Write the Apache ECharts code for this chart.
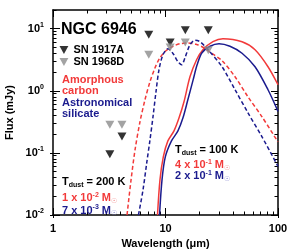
<!DOCTYPE html>
<html><head><meta charset="utf-8">
<script src="https://cdn.jsdelivr.net/npm/echarts@6/dist/echarts.min.js"></script>
<style>html,body{margin:0;padding:0;background:#fff}#c{width:300px;height:252px}</style>
</head><body><div id="c"></div>
<script>
// ---- data (wavelength in micron, flux in mJy) ----
const carbon200Wl   = [4.55, 4.94, 5.36, 5.93, 6.57, 7.28, 8.07, 8.93, 10.1, 11.7, 13.5, 15.8, 18.7, 21.5, 24.9, 31.8, 41.5, 54.1, 72.1, 100];
const carbon200Flux = [0.01, 0.0367, 0.112, 0.316, 0.716, 1.40, 2.35, 3.41, 4.42, 5.22, 5.73, 5.88, 5.62, 5.03, 4.18, 3.05, 1.68, 0.80, 0.381, 0.150];
const silicate200Wl   = [5.75, 6.31, 6.81, 7.28, 7.74, 8.23, 8.75, 9.5, 10.5, 11.7, 12.9, 13.9, 14.9, 16.5, 18.3, 20.3, 23.9, 31.8, 41.5, 54.1, 72.1, 100];
const silicate200Flux = [0.01, 0.0253, 0.069, 0.162, 0.381, 0.964, 2.18, 3.81, 4.76, 3.95, 2.94, 2.62, 3.41, 5.52, 6.53, 6.17, 4.58, 2.44, 1.04, 0.442, 0.181, 0.0606];
const carbon100Wl   = [8.49, 8.93, 9.56, 10.5, 11.9, 13.2, 14.6, 16.5, 18.9, 21.5, 26.4, 32.4, 47.9, 62.5, 81.5, 100];
const carbon100Flux = [0.01, 0.0367, 0.0861, 0.156, 0.226, 0.367, 0.665, 1.68, 3.16, 4.58, 6.17, 6.90, 6.17, 4.58, 2.44, 1.25];
const silicate100Wl   = [8.85, 9.31, 9.96, 11.3, 12.9, 14.3, 15.8, 17.6, 19.1, 21.1, 24.9, 29.9, 37.4, 47.9, 62.5, 81.5, 100];
const silicate100Flux = [0.01, 0.0367, 0.0861, 0.156, 0.226, 0.367, 0.716, 1.50, 2.62, 4.10, 5.22, 5.73, 5.22, 4.03, 2.44, 1.04, 0.467];
const sn1917aWl   = [3.2, 4.1, 7.1, 11.0, 15.0, 24.0];
const sn1917aFlux = [0.095, 0.183, 8.0, 6.0, 9.4, 9.4];
const sn1968dWl   = [3.2, 4.1, 7.1, 11.0, 15.0, 24.0];
const sn1968dFlux = [0.283, 0.283, 3.8, 5.0, 6.0, 4.5];
const xMajorTicks = [1, 10, 100];
const xMinorTicks = [2, 3, 4, 5, 6, 7, 8, 9, 20, 30, 40, 50, 60, 70, 80, 90];
const yMajorTicks = [0.01, 0.1, 1, 10];
const yMinorTicks = [0.02, 0.03, 0.04, 0.05, 0.06, 0.07, 0.08, 0.09, 0.2, 0.3, 0.4, 0.5, 0.6, 0.7, 0.8, 0.9, 2, 3, 4, 5, 6, 7, 8, 9, 20];

// ---- styling ----
const FONT = "'Liberation Sans', Arial, Helvetica, sans-serif";
const RED = '#f23a3a', NAVY = '#1b1b8e', GRAY = '#8c8c8c';
const RED_SUN = '#f08a8a', NAVY_SUN = '#8a8ad0';
const X_MIN = 1, X_MAX = 100, Y_MIN = 0.01, Y_MAX = 20;
const LX = [Math.log10(X_MIN), Math.log10(X_MAX)];
const LY = [Math.log10(Y_MIN), Math.log10(Y_MAX)];
const pairs = (a, b) => a.map((v, i) => [v, b[i]]);
const TRI = 'path://M0,0L10,0L5,9Z';

function ovAxis(dim, pos, vals, len, inside, label) {
  const ext = dim === 'x' ? LX : LY;
  return {
    type: 'value', min: ext[0], max: ext[1], position: pos,
    axisLine: {show: false, onZero: false},
    axisTick: {show: true, inside: inside, length: len, customValues: vals.map(Math.log10),
               lineStyle: {color: '#000', width: 1}},
    axisLabel: label || {show: false},
    splitLine: {show: false}, minorTick: {show: false}
  };
}
function frameAxis(type, pos, ext) {
  return {
    type: 'log', logBase: 10, min: ext[0], max: ext[1], position: pos,
    axisLine: {show: true, onZero: false, lineStyle: {color: '#000', width: 1.5}},
    axisTick: {show: false}, axisLabel: {show: false}, splitLine: {show: false}
  };
}

const xLabel = {
  show: true, margin: 8, customValues: xMajorTicks.map(Math.log10),
  formatter: v => String(Math.round(Math.pow(10, v))),
  fontFamily: FONT, fontWeight: 'bold', fontSize: 11, color: '#000'
};
const yLabel = {
  show: true, margin: 9, customValues: yMajorTicks.map(Math.log10),
  formatter: v => '{b|10}{s|' + Math.round(v) + '}',
  rich: {
    b: {fontFamily: FONT, fontWeight: 'bold', fontSize: 11, color: '#000', lineHeight: 14},
    s: {fontFamily: FONT, fontWeight: 'bold', fontSize: 7, color: '#000', lineHeight: 7, verticalAlign: 'top'}
  }
};

function mk(fill, sunFill) {
  return {
    a: {fontFamily: FONT, fontWeight: 'bold', fontSize: 11, fill: fill, lineHeight: 13},
    sup: {fontFamily: FONT, fontWeight: 'bold', fontSize: 7, fill: fill, lineHeight: 7, verticalAlign: 'top'},
    sub: {fontFamily: FONT, fontWeight: 'bold', fontSize: 7, fill: fill, lineHeight: 7, verticalAlign: 'bottom'},
    sun: {fontFamily: "'DejaVu Sans', sans-serif", fontSize: 7, fill: sunFill, lineHeight: 7, verticalAlign: 'bottom'}
  };
}
function txt(x, y, text, fill, sunFill, extra) {
  return Object.assign({
    type: 'text', x: x, y: y, z: 100,
    style: {text: text, rich: mk(fill, sunFill), fill: fill, fontFamily: FONT, fontWeight: 'bold',
            fontSize: 11, align: 'left', verticalAlign: 'middle'}
  }, extra || {});
}

const option = {
  animation: false,
  backgroundColor: '#fff',
  grid: {left: 53, right: 22, top: 10, bottom: 37, containLabel: false},
  legend: {
    orient: 'vertical', left: 59.5, top: 44.5, itemWidth: 9, itemHeight: 8, itemGap: 1, padding: 0,
    textStyle: {fontFamily: FONT, fontWeight: 'bold', fontSize: 11, color: '#000', lineHeight: 9},
    data: ['SN 1917A', 'SN 1968D']
  },
  xAxis: [
    frameAxis('log', 'bottom', [X_MIN, X_MAX]),
    frameAxis('log', 'top', [X_MIN, X_MAX]),
    ovAxis('x', 'bottom', xMinorTicks, 3.5, true),
    ovAxis('x', 'top', xMinorTicks, 3.5, true),
    ovAxis('x', 'bottom', xMajorTicks, 7, true, xLabel),
    ovAxis('x', 'top', xMajorTicks, 7, true),
    ovAxis('x', 'bottom', xMajorTicks, 3, false)
  ],
  yAxis: [
    frameAxis('log', 'left', [Y_MIN, Y_MAX]),
    frameAxis('log', 'right', [Y_MIN, Y_MAX]),
    ovAxis('y', 'left', yMinorTicks, 3.5, true),
    ovAxis('y', 'right', yMinorTicks, 3.5, true),
    ovAxis('y', 'left', yMajorTicks, 7, true, yLabel),
    ovAxis('y', 'right', yMajorTicks, 7, true),
    ovAxis('y', 'left', yMajorTicks, 3, false)
  ],
  series: [
    {name: 'Amorphous carbon 200 K', type: 'line', data: pairs(carbon200Wl, carbon200Flux), smooth: 0.3,
     symbol: 'none', lineStyle: {color: RED, width: 1.5, type: [4, 2.5]}},
    {name: 'Astronomical silicate 200 K', type: 'line', data: pairs(silicate200Wl, silicate200Flux), smooth: 0.3,
     symbol: 'none', lineStyle: {color: NAVY, width: 1.5, type: [4, 2.5]}},
    {name: 'Amorphous carbon 100 K', type: 'line', data: pairs(carbon100Wl, carbon100Flux), smooth: 0.3,
     symbol: 'none', lineStyle: {color: RED, width: 1.5}},
    {name: 'Astronomical silicate 100 K', type: 'line', data: pairs(silicate100Wl, silicate100Flux), smooth: 0.3,
     symbol: 'none', lineStyle: {color: NAVY, width: 1.5}},
    {name: 'SN 1917A', type: 'scatter', data: pairs(sn1917aWl, sn1917aFlux), symbol: TRI, symbolSize: [9, 8],
     itemStyle: {color: '#000'}, z: 5},
    {name: 'SN 1968D', type: 'scatter', data: pairs(sn1968dWl, sn1968dFlux), symbol: TRI, symbolSize: [9, 8],
     itemStyle: {color: GRAY}, z: 6}
  ],
  graphic: [
    {type: 'text', x: 61, y: 29.5, z: 100,
     style: {text: 'NGC 6946', fill: '#000', fontFamily: FONT, fontWeight: 'bold', fontSize: 16, verticalAlign: 'middle'}},
    {type: 'text', x: 62, y: 74.5, z: 100,
     style: {text: 'Amorphous\ncarbon', fill: RED, fontFamily: FONT, fontWeight: 'bold', fontSize: 11, lineHeight: 11, verticalAlign: 'top'}},
    {type: 'text', x: 62, y: 97.5, z: 100,
     style: {text: 'Astronomical\nsilicate', fill: NAVY, fontFamily: FONT, fontWeight: 'bold', fontSize: 11, lineHeight: 11, verticalAlign: 'top'}},
    txt(62, 182, '{a|T}{sub|dust}{a| = 200 K}', '#000', '#000'),
    txt(62, 198, '{a|1 x 10}{sup|-2}{a| M}{sun|\u2609}', RED, RED_SUN),
    txt(62, 210.5, '{a|7 x 10}{sup|-3}{a| M}{sun|\u2609}', NAVY, NAVY_SUN),
    txt(175, 150, '{a|T}{sub|dust}{a| = 100 K}', '#000', '#000'),
    txt(175, 165, '{a|4 x 10}{sup|-1}{a| M}{sun|\u2609}', RED, RED_SUN),
    txt(175, 176, '{a|2 x 10}{sup|-1}{a| M}{sun|\u2609}', NAVY, NAVY_SUN),
    {type: 'text', x: 10, y: 112.5, rotation: Math.PI / 2, z: 100,
     style: {text: 'Flux (mJy)', fill: '#000', fontFamily: FONT, fontWeight: 'bold', fontSize: 11, align: 'center', verticalAlign: 'middle'}},
    {type: 'text', x: 165.5, y: 243.5, z: 100,
     style: {text: 'Wavelength (\u03bcm)', fill: '#000', fontFamily: FONT, fontWeight: 'bold', fontSize: 11, align: 'center', verticalAlign: 'middle'}}
  ]
};
const chart = echarts.init(document.getElementById('c'), null, {renderer: 'canvas', width: 300, height: 252});
chart.setOption(option);
</script>
</body></html>
